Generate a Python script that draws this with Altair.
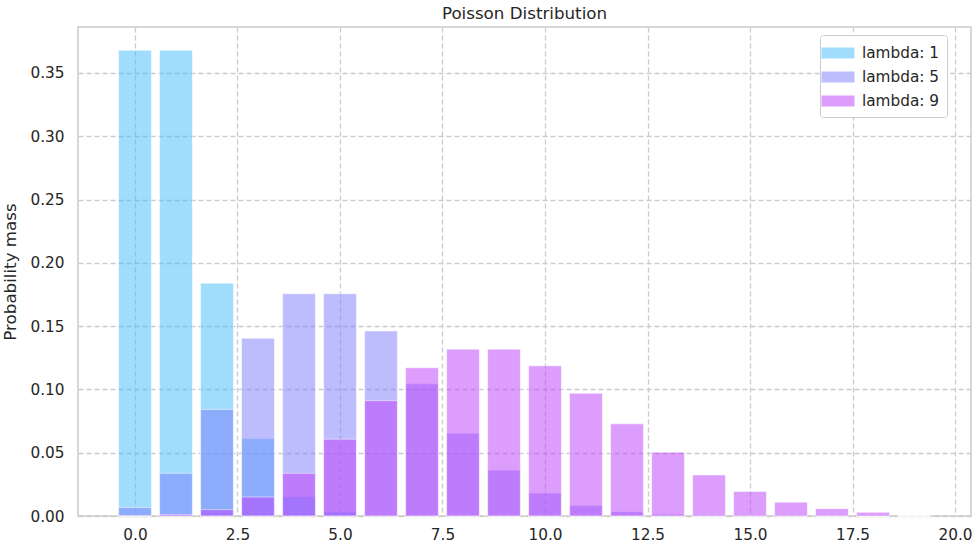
import altair as alt
import pandas as pd

k = list(range(20))
lam1 = [0.3679, 0.3679, 0.1839, 0.0613, 0.0153, 0.0031, 0.0005, 0.0001, 0.0, 0.0,
        0.0, 0.0, 0.0, 0.0, 0.0, 0.0, 0.0, 0.0, 0.0, 0.0]
lam5 = [0.0067, 0.0337, 0.0842, 0.1404, 0.1755, 0.1755, 0.1462, 0.1044, 0.0653, 0.0363,
        0.0181, 0.0082, 0.0034, 0.0013, 0.0005, 0.0002, 0.0001, 0.0, 0.0, 0.0]
lam9 = [0.0001, 0.0011, 0.0050, 0.0150, 0.0337, 0.0607, 0.0911, 0.1171, 0.1318, 0.1318,
        0.1186, 0.0970, 0.0728, 0.0504, 0.0324, 0.0194, 0.0109, 0.0058, 0.0029, 0.0]
series = ["lambda: 1", "lambda: 5", "lambda: 9"]
colors = ["#41bbfb", "#7b7bfb", "#bb3bfb"]

rows = []
for name, vals in zip(series, [lam1, lam5, lam9]):
    for kk, v in zip(k, vals):
        rows.append({"k": kk, "p": v, "base": 0.0, "series": name})
df = pd.DataFrame(rows)

FONT = "DejaVu Sans"

chart = (
    alt.Chart(df)
    .transform_calculate(x0="datum.k - 0.4", x1="datum.k + 0.4")
    .mark_rect(fillOpacity=0.5, stroke="white", strokeWidth=1, strokeOpacity=0.5)
    .encode(
        x=alt.X("x0:Q", scale=alt.Scale(domain=[-1.39, 20.39], nice=False, zero=False, padding=0),
                axis=alt.Axis(values=[0, 2.5, 5, 7.5, 10, 12.5, 15, 17.5, 20], format=".1f",
                              title=None, labelPadding=11)),
        x2="x1:Q",
        y=alt.Y("p:Q", stack=None, scale=alt.Scale(domain=[0, 0.3863], nice=False, padding=0),
                axis=alt.Axis(values=[0, 0.05, 0.1, 0.15, 0.2, 0.25, 0.3, 0.35], format=".2f",
                              title="Probability mass", labelPadding=14, titlePadding=10)),
        y2="base:Q",
        color=alt.Color("series:N", scale=alt.Scale(domain=series, range=colors),
                        legend=alt.Legend(title=None, orient="none", legendX=742, legendY=8,
                                          symbolType="M-1.5,-0.5H1.5V0.5H-1.5Z",
                                          symbolSize=484, symbolOpacity=0.5,
                                          symbolStrokeWidth=0, labelOffset=13,
                                          fillColor="white", strokeColor="#cccccc",
                                          padding=7, cornerRadius=3, rowPadding=4)),
    )
    .properties(
        width=893, height=489,
        title=alt.TitleParams("Poisson Distribution", font=FONT, fontSize=16.7,
                              fontWeight="normal", color="#262626", offset=4),
        autosize=alt.AutoSizeParams(type="none"),
        padding={"left": 78, "top": 27, "right": 9, "bottom": 38},
    )
    .configure(background="white", font=FONT)
    .configure_view(stroke="#cccccc", strokeWidth=1.5)
    .configure_axis(
        grid=True, gridColor="#cccccc", gridDash=[5, 3], gridWidth=1.3,
        domain=False, ticks=False,
        labelFont=FONT, labelFontSize=15.3, labelColor="#262626",
        titleFont=FONT, titleFontSize=16.7, titleColor="#262626", titleFontWeight="normal",
    )
    .configure_legend(labelFont=FONT, labelFontSize=15.3, labelColor="#262626")
)

chart.save("out.html", embed_options={"renderer": "svg", "actions": False})
